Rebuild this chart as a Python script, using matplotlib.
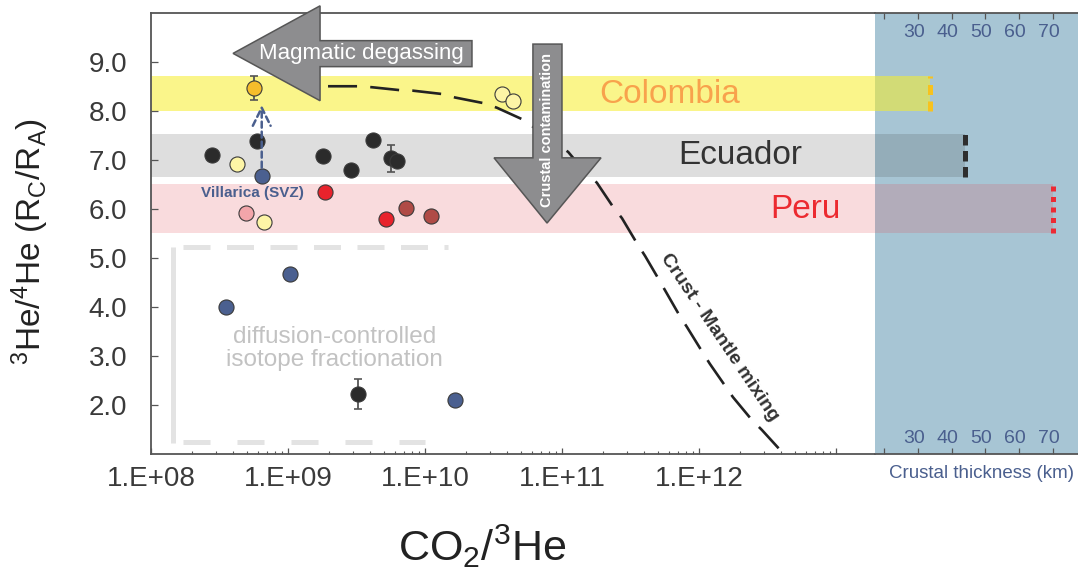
import numpy as np
import matplotlib
matplotlib.use("Agg")
import matplotlib.pyplot as plt
from matplotlib.patches import Polygon
from matplotlib.ticker import FixedLocator, FuncFormatter, NullFormatter
import matplotlib.transforms as mtransforms

plt.rcParams['font.family'] = ['Liberation Sans', 'DejaVu Sans']
plt.rcParams['mathtext.fontset'] = 'custom'
plt.rcParams['mathtext.rm'] = 'Liberation Sans'
plt.rcParams['mathtext.it'] = 'Liberation Sans:italic'
plt.rcParams['mathtext.bf'] = 'Liberation Sans:bold'

# ---------------- data ----------------
# CO2/3He and 3He/4He (Rc/Ra) by sample group
black_x = [2.77e8, 5.9e8, 1.79e9, 2.87e9, 4.15e9, 5.65e9, 6.2e9, 3.23e9]
black_y = [7.10, 7.39, 7.08, 6.79, 7.40, 7.03, 6.98, 2.22]
black_err = [0, 0, 0, 0, 0, 0.27, 0, 0.30]

paleyellow_x = [4.27e8, 6.67e8, 3.66e10, 4.42e10]
paleyellow_y = [6.91, 5.74, 8.34, 8.20]

gold_x = [5.68e8]
gold_y = [8.46]
gold_err = [0.25]

blue_x = [6.43e8, 3.5e8, 1.03e9, 1.66e10]
blue_y = [6.67, 4.00, 4.67, 2.10]

red_x = [1.86e9, 5.19e9]
red_y = [6.35, 5.79]

darkred_x = [7.23e9, 1.11e10]
darkred_y = [6.01, 5.85]

pink_x = [4.93e8]
pink_y = [5.92]

# crust - mantle mixing trajectory
mix_x = [1.96e9, 3.24e9, 4.10e9, 6.58e9, 8.17e9, 1.35e10, 1.66e10, 2.74e10,
         3.36e10, 5.19e10, 1.11e11, 1.24e11, 1.80e11, 2.36e11, 2.74e11,
         3.52e11, 4.04e11, 5.02e11, 5.65e11, 7.26e11, 8.17e11, 1.07e12,
         1.20e12, 1.57e12, 1.77e12, 2.44e12, 2.88e12, 4.04e12]
mix_y = [8.50, 8.50, 8.48, 8.42, 8.41, 8.34, 8.27, 8.15,
         8.06, 7.82, 7.16, 7.00, 6.53, 6.04, 5.81,
         5.30, 5.04, 4.59, 4.34, 3.81, 3.59, 3.06,
         2.84, 2.37, 2.16, 1.69, 1.49, 1.04]

# regional 3He/4He ranges and crustal thickness (km)
regions = ['Colombia', 'Ecuador', 'Peru']
region_low = [8.0, 6.65, 5.5]
region_high = [8.7, 7.52, 6.5]
crust_km = [33.5, 44.0, 70.0]

x_ticks = [1e8, 1e9, 1e10, 1e11, 1e12, 1e13]
y_ticks = [2.0, 3.0, 4.0, 5.0, 6.0, 7.0, 8.0, 9.0]
km_ticks = [20, 30, 40, 50, 60, 70]
km_labels = ['30', '40', '50', '60', '70']

# ---------------- styling ----------------
band_color = ['#f6ee2a', '#323232', '#e14b55']
band_alpha = [0.55, 0.16, 0.20]
label_color = ['#f8a24c', '#333333', '#ec2a30']
end_color = ['#f7c21e', '#2e2e2e', '#ec2a34']
end_dashes = [(2.0, 1.3), (2.1, 1.1), (1.0, 1.1)]
slate = '#4a5f8e'
spine_c = '#555555'
text_c = '#3a3a3a'

W, H = 1078, 571
fig = plt.figure(figsize=(W / 100, H / 100), dpi=100)
ax_l, ax_r, ax_t, ax_b, ax_split = 151, 1078, 12.7, 454, 875
ax = fig.add_axes([ax_l / W, (H - ax_b) / H, (ax_split - ax_l) / W, (ax_b - ax_t) / H])
axc = fig.add_axes([ax_split / W, (H - ax_b) / H, (ax_r - ax_split) / W, (ax_b - ax_t) / H],
                   sharey=ax)

# main panel
ax.set_xscale('log')
ax.set_xlim(1e8, 10 ** 13.285)
ax.set_ylim(1.0, 10.0)
ax.xaxis.set_major_locator(FixedLocator(x_ticks))
ax.xaxis.set_major_formatter(FuncFormatter(
    lambda v, p: '1.E+%02d' % round(np.log10(v)) if v < 5e12 else ''))
minor = [m * 10.0 ** e for e in range(8, 14) for m in range(2, 10)]
ax.xaxis.set_minor_locator(FixedLocator(minor))
ax.xaxis.set_minor_formatter(NullFormatter())
ax.yaxis.set_major_locator(FixedLocator(y_ticks))
ax.yaxis.set_major_formatter(FuncFormatter(lambda v, p: '%.1f' % v))
ax.tick_params(axis='x', which='major', direction='in', length=4, width=0.9,
               color=spine_c, labelsize=20, labelcolor=text_c, pad=9)
ax.tick_params(axis='x', which='minor', direction='in', length=2.5, width=0.8,
               color=spine_c)
ax.tick_params(axis='y', direction='in', length=5, width=0.9, color=spine_c,
               labelsize=20, labelcolor=text_c, pad=17)
for s in ['left', 'bottom', 'top']:
    ax.spines[s].set_color(spine_c)
    ax.spines[s].set_linewidth(1.3)
ax.spines['right'].set_visible(False)

for lo, hi, c, a in zip(region_low, region_high, band_color, band_alpha):
    ax.axhspan(lo, hi, color=c, alpha=a, lw=0, zorder=1)

# diffusion fractionation box
ax.plot([1.71e8, 1.47e10], [5.23, 5.23], color='#e3e3e3', lw=3.6,
        dashes=(5.4, 3.3), solid_capstyle='butt', dash_capstyle='butt', zorder=2)
ax.plot([1.71e8, 1.0e10], [1.25, 1.25], color='#e3e3e3', lw=3.6,
        dashes=(5.4, 5.4), dash_capstyle='butt', zorder=2)
ax.plot([1.455e8, 1.455e8], [1.22, 5.23], color='#e3e3e3', lw=3.6,
        solid_capstyle='butt', zorder=2)
ax.text(2.2e9, 3.16, 'diffusion-controlled\nisotope fractionation', color='#c2c2c2',
        fontsize=17.5, ha='center', va='center', linespacing=1.05, zorder=2)

# mixing curve
ax.plot(mix_x, mix_y, color='#222222', lw=1.9, dashes=(11, 5), zorder=3)
ax.text(1.42e12, 3.37, 'Crust - Mantle mixing', rotation=-56, rotation_mode='anchor',
        ha='center', va='center', fontsize=14, fontweight='bold', color='#333333', zorder=7)

# samples
edge = '#3a3a3a'
ms = 118
ax.errorbar(black_x, black_y, yerr=black_err, fmt='none', ecolor='#555555',
            elinewidth=1.3, capsize=2.6, capthick=1.2, zorder=4)
ax.errorbar(gold_x, gold_y, yerr=gold_err, fmt='none', ecolor='#555555',
            elinewidth=1.3, capsize=2.6, capthick=1.2, zorder=4)
groups = [
    (paleyellow_x, paleyellow_y, '#fdf5a6'),
    (gold_x, gold_y, '#f6bd2b'),
    (blue_x, blue_y, '#4b6090'),
    (pink_x, pink_y, '#f2a5aa'),
    (red_x, red_y, '#e8232c'),
    (darkred_x, darkred_y, '#b04b46'),
    (black_x, black_y, '#2b2b2b'),
]
for gx, gy, c in groups:
    ax.scatter(gx, gy, s=ms, c=c, edgecolors=edge, linewidths=0.8, zorder=5)

# Villarica shift arrow
ax.annotate('', xy=(blue_x[0], 8.12), xytext=(blue_x[0], 6.84),
            arrowprops=dict(arrowstyle='->,head_length=0.65,head_width=0.32',
                            mutation_scale=20, color=slate, lw=1.8,
                            linestyle=(0, (2.4, 1.6)), shrinkA=0, shrinkB=0),
            zorder=6)
ax.text(5.46e8, 6.32, 'Villarica (SVZ)', color=slate, fontsize=11, fontweight='bold',
        ha='center', va='center', zorder=7)

# region names
label_pos = [(6.14e11, 8.33), (1.99e12, 7.08), (5.94e12, 5.98)]
for name, (lx, ly), c in zip(regions, label_pos, label_color):
    ax.text(lx, ly, name, color=c, fontsize=24, ha='center', va='center', zorder=7)

# process arrows
arrow_fc, arrow_ec = '#8d8d8f', '#565656'
degas = [(10 ** 8.599, 9.17), (10 ** 9.234, 10.14), (10 ** 9.234, 9.43),
         (10 ** 10.343, 9.43), (10 ** 10.343, 8.90), (10 ** 9.234, 8.90),
         (10 ** 9.234, 8.205)]
ax.add_patch(Polygon(degas, closed=True, fc=arrow_fc, ec=arrow_ec, lw=1.1,
                     clip_on=False, zorder=6))
ax.text(10 ** 9.536, 9.17, 'Magmatic degassing', color='white', fontsize=16,
        ha='center', va='center', zorder=7, clip_on=False)

contam = [(10 ** 10.788, 9.36), (10 ** 11.0, 9.36), (10 ** 11.0, 7.04),
          (10 ** 11.285, 7.04), (10 ** 10.891, 5.71), (10 ** 10.504, 7.04),
          (10 ** 10.788, 7.04)]
ax.add_patch(Polygon(contam, closed=True, fc=arrow_fc, ec=arrow_ec, lw=1.1, zorder=6))
ax.text(10 ** 10.891, 7.61, 'Crustal contamination', color='white', fontsize=10.5,
        fontweight='bold', rotation=90, ha='center', va='center', zorder=7)

# crustal thickness panel
axc.set_facecolor('#a7c5d4')
km_lo, km_hi = 17.34, 77.4
axc.set_xlim(km_lo, km_hi)
axc.xaxis.set_major_locator(FixedLocator(km_ticks))
axc.tick_params(axis='x', which='both', direction='in', length=4, width=0.9,
                color=spine_c, top=True, bottom=True, labelbottom=False, labeltop=False)
axc.tick_params(axis='y', which='both', left=False, right=False,
                labelleft=False, labelright=False)
for s in ['left', 'right']:
    axc.spines[s].set_visible(False)
for s in ['top', 'bottom']:
    axc.spines[s].set_color(spine_c)
    axc.spines[s].set_linewidth(1.3)

for lo, hi, c, a, km, ec, dsh in zip(region_low, region_high, band_color, band_alpha,
                                      crust_km, end_color, end_dashes):
    axc.fill_between([km_lo, km], lo, hi, color=c, alpha=a, lw=0, zorder=1)
    axc.plot([km, km], [lo, hi], color=ec, lw=3.6, dashes=dsh,
             dash_capstyle='butt', zorder=3)

trans = mtransforms.blended_transform_factory(axc.transData, axc.transAxes)
for v, lab in zip(km_ticks[1:], km_labels):
    axc.text(v - 1.2, 0.956, lab, transform=trans, ha='center', va='center',
             fontsize=14, color=slate)
    axc.text(v - 1.2, 0.036, lab, transform=trans, ha='center', va='center',
             fontsize=14, color=slate)
fig.text(981.7 / W, 1 - 473 / H, 'Crustal thickness (km)', ha='center', va='center',
         fontsize=13.5, color=slate)

# axis titles
fig.text(30 / W, 1 - 241.5 / H, r'$\mathrm{^3He/^4He\ (R_C/R_A)}$', rotation=90,
         ha='center', va='center', fontsize=24, color='#222222')
fig.text(482 / W, 1 - 546 / H, r'$\mathrm{CO_2/^3He}$', ha='center', va='center',
         fontsize=31, color='#222222')

fig.savefig('out.png', dpi=100)
